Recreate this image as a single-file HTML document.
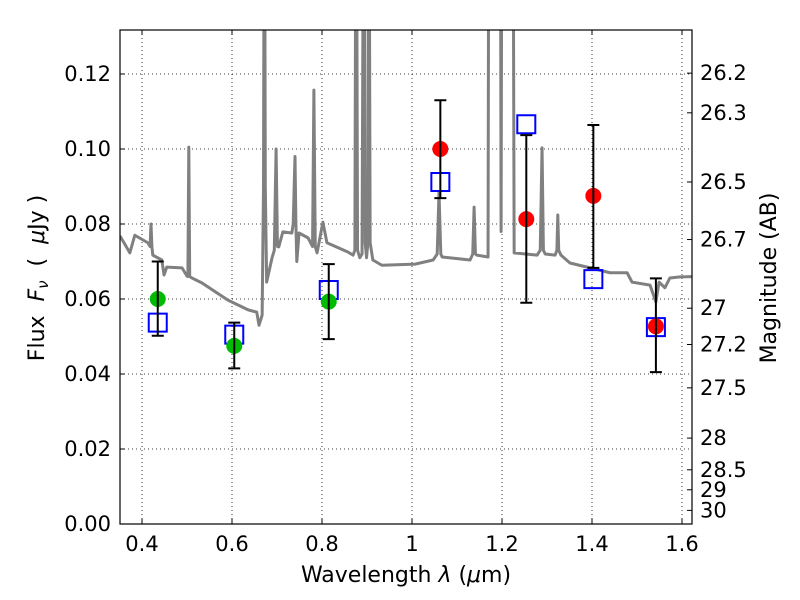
<!DOCTYPE html>
<html><head><meta charset="utf-8"><style>
body{margin:0;background:#fff;}
svg{display:block;font-family:"DejaVu Sans","Liberation Sans",sans-serif;}
</style></head><body>
<svg id="chart" width="800" height="600" viewBox="0 0 800 600" xmlns="http://www.w3.org/2000/svg"></svg>
<script>
// ---- data ----
const specWave = [0.351,0.36,0.373,0.384,0.413,0.418,0.42,0.422,0.424,0.444,0.449,0.455,0.489,0.50,0.502,0.504,0.506,0.511,0.533,0.591,0.636,0.655,0.660,0.667,0.670,0.672,0.674,0.677,0.689,0.694,0.698,0.701,0.704,0.713,0.733,0.736,0.740,0.742,0.744,0.749,0.769,0.779,0.782,0.785,0.789,0.802,0.811,0.858,0.869,0.873,0.876,0.879,0.884,0.889,0.893,0.896,0.899,0.902,0.904,0.907,0.913,0.933,1.007,1.047,1.056,1.060,1.064,1.067,1.129,1.135,1.138,1.141,1.144,1.169,1.171,1.196,1.198,1.200,1.224,1.227,1.278,1.285,1.289,1.292,1.296,1.318,1.322,1.324,1.326,1.331,1.351,1.396,1.44,1.478,1.489,1.529,1.542,1.549,1.562,1.573,1.596,1.64];
const specFlux = [0.0768,0.075,0.0723,0.077,0.075,0.074,0.080,0.074,0.0717,0.0704,0.0664,0.0685,0.0683,0.0661,0.066,0.1005,0.066,0.0656,0.0643,0.0597,0.0571,0.0565,0.053,0.0557,0.09,0.2,0.09,0.0645,0.071,0.073,0.100,0.074,0.0739,0.0779,0.0776,0.080,0.098,0.08,0.070,0.0776,0.0763,0.074,0.1157,0.074,0.0723,0.0805,0.075,0.0725,0.0717,0.073,0.2,0.073,0.071,0.072,0.2,0.075,0.071,0.075,0.2,0.075,0.0704,0.069,0.0693,0.0704,0.072,0.0885,0.072,0.0712,0.0704,0.072,0.0845,0.072,0.0717,0.0712,0.2,0.2,0.078,0.2,0.2,0.0723,0.0717,0.073,0.1003,0.073,0.072,0.0717,0.073,0.0824,0.073,0.0717,0.0696,0.0683,0.067,0.067,0.0645,0.0637,0.0592,0.0645,0.063,0.0656,0.0659,0.066];
const ptWave = [0.435,0.605,0.815,1.063,1.254,1.403,1.542];
const ptFlux = [0.060,0.0475,0.0593,0.100,0.0813,0.0875,0.0527];
const errHi = [0.0700,0.0537,0.0693,0.113,0.1037,0.1064,0.0655];
const errLo = [0.0502,0.0415,0.0493,0.0869,0.0590,0.0683,0.0405];
const ptColor = ["green","green","green","red","red","red","red"];
const modelFlux = [0.0537,0.0505,0.0624,0.0912,0.1066,0.0653,0.0525];
const xTicks = [0.4,0.6,0.8,1.0,1.2,1.4,1.6];
const xTickLabels = ["0.4","0.6","0.8","1","1.2","1.4","1.6"];
const yTicks = [0,0.02,0.04,0.06,0.08,0.10,0.12];
const yTickLabels = ["0.00","0.02","0.04","0.06","0.08","0.10","0.12"];
const magTicks = [26.2,26.3,26.5,26.7,27,27.2,27.5,28,28.5,29,30];
const magLabels = ["26.2","26.3","26.5","26.7","27","27.2","27.5","28","28.5","29","30"];

// ---- axes ----
const L=120,R=692,T=30,B=524;
const X = w => 142 + (w-0.4)*450;
const Y = f => 524 - f*3750;
const NS="http://www.w3.org/2000/svg";
const svg=document.getElementById('chart');
function mk(tag,attrs,parent){const e=document.createElementNS(NS,tag);for(const k in attrs)e.setAttribute(k,attrs[k]);(parent||svg).appendChild(e);return e;}

const defs=mk('defs',{});
const cp=mk('clipPath',{id:'clip'},defs);
mk('rect',{x:L,y:T,width:R-L,height:B-T},cp);

xTicks.forEach((t,i)=>{
  const g=mk('line',{x1:X(t),x2:X(t),y1:T,y2:B,stroke:'#000','stroke-width':0.8,'stroke-dasharray':'1,3'});
  
  
  mk('line',{x1:X(t),x2:X(t),y1:B,y2:B-5,stroke:'#000'});
  mk('line',{x1:X(t),x2:X(t),y1:T,y2:T+5,stroke:'#000'});
  const tx=mk('text',{x:X(t),y:B+27,'text-anchor':'middle','font-size':21});
  tx.textContent=xTickLabels[i];
  
  
});
yTicks.forEach((t,i)=>{
  const g=mk('line',{x1:L,x2:R,y1:Y(t),y2:Y(t),stroke:'#000','stroke-width':0.8,'stroke-dasharray':'1,3'});
  
  
  mk('line',{x1:L,x2:L+5,y1:Y(t),y2:Y(t),stroke:'#000'});
  const tx=mk('text',{x:L-9,y:Y(t)+7,'text-anchor':'end','font-size':21});
  tx.textContent=yTickLabels[i];
  
  
});
magTicks.forEach((m,i)=>{
  const f=Math.pow(10,(23.9-m)/2.5);
  const y=Y(f);
  mk('line',{x1:R,x2:R-5,y1:y,y2:y,stroke:'#000'});
  const tx=mk('text',{x:R+8,y:y+7,'text-anchor':'start','font-size':21});
  tx.textContent=magLabels[i];
  
  
});

const g=mk('g',{'clip-path':'url(#clip)'});
const sp=mk('polyline',{points:specWave.map((w,i)=>X(w)+','+Y(specFlux[i])).join(' '),fill:'none',stroke:'#808080','stroke-width':3,'stroke-linejoin':'round'},g);



ptWave.forEach((w,i)=>{
  const x=X(w);
  const sq=mk('rect',{x:x-9,y:Y(modelFlux[i])-9,width:18,height:18,fill:'none',stroke:'#0000ff','stroke-width':2},g);
  
  
  const c=mk('circle',{cx:x,cy:Y(ptFlux[i]),r:8,fill:ptColor[i]==='green'?'#00bb00':'#ff0000'},g);
  
  
  const eb=mk('g',{stroke:'#000','stroke-width':2},g);
  
  
  mk('line',{x1:x,x2:x,y1:Y(errHi[i]),y2:Y(errLo[i])},eb);
  mk('line',{x1:x-6,x2:x+6,y1:Y(errHi[i]),y2:Y(errHi[i])},eb);
  mk('line',{x1:x-6,x2:x+6,y1:Y(errLo[i]),y2:Y(errLo[i])},eb);
});

const fr=mk('rect',{x:L,y:T,width:R-L,height:B-T,fill:'none',stroke:'#000','stroke-width':1.2});


</script>
<svg style="position:absolute;left:0;top:0" width="800" height="600" xmlns="http://www.w3.org/2000/svg">
<text x="406" y="582" text-anchor="middle" font-size="22" font-family="DejaVu Sans, sans-serif">Wavelength  <tspan font-style="italic">λ</tspan> (<tspan font-style="italic">μ</tspan>m)</text>
<text transform="translate(44,278) rotate(-90)" text-anchor="middle" font-size="22" font-family="DejaVu Sans, sans-serif" xml:space="preserve">Flux  <tspan font-style="italic">F</tspan><tspan font-style="italic" font-size="15" dy="4">ν</tspan><tspan dy="-4">  (  </tspan><tspan font-style="italic">μ</tspan>Jy )</text>
<text transform="translate(776,278) rotate(-90)" text-anchor="middle" font-size="22" font-family="DejaVu Sans, sans-serif">Magnitude (AB)</text>
</svg>
</body></html>
